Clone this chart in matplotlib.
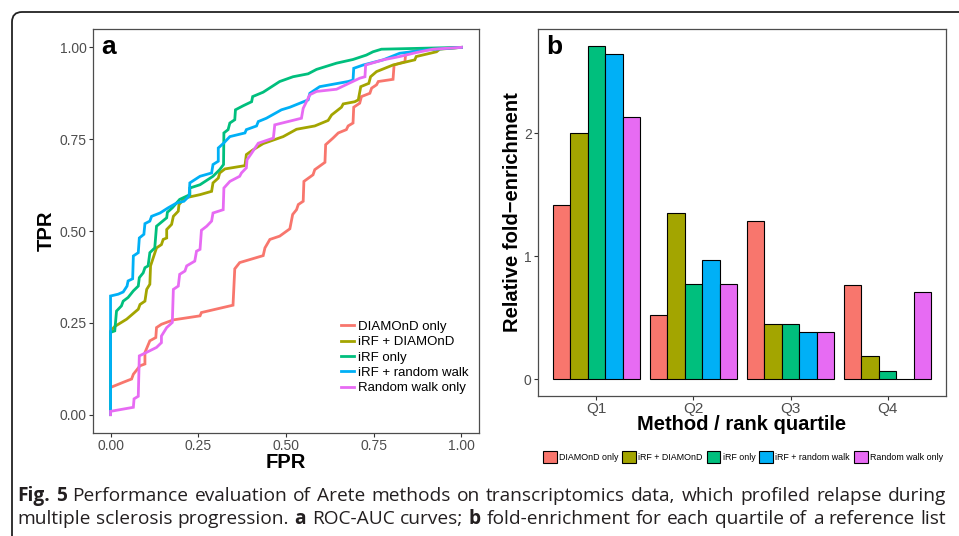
import matplotlib
matplotlib.use('Agg')
import matplotlib.pyplot as plt
from matplotlib.patches import FancyBboxPatch, Patch
from matplotlib.transforms import IdentityTransform
import numpy as np

plt.rcParams['font.family'] = ['Liberation Sans', 'DejaVu Sans']

# --- panel a: ROC curves ---
fpr_diamond = [0, 0, 0.036, 0.060, 0.065, 0.084, 0.098, 0.098, 0.112, 0.129, 0.131, 0.145, 0.179,
               0.255, 0.259, 0.349, 0.354, 0.368, 0.435, 0.440, 0.454, 0.482, 0.511, 0.519, 0.530,
               0.535, 0.549, 0.551, 0.577, 0.582, 0.611, 0.613, 0.634, 0.649, 0.672, 0.677, 0.691,
               0.693, 0.710, 0.715, 0.739, 0.744, 0.758, 0.763, 0.805, 0.808, 0.839, 0.841, 0.881, 1.0]
tpr_diamond = [0, 0.074, 0.088, 0.097, 0.110, 0.133, 0.138, 0.169, 0.201, 0.210, 0.237, 0.246, 0.258,
               0.269, 0.278, 0.298, 0.397, 0.414, 0.433, 0.454, 0.477, 0.486, 0.506, 0.545, 0.558,
               0.572, 0.581, 0.635, 0.653, 0.667, 0.687, 0.735, 0.753, 0.767, 0.776, 0.786, 0.794,
               0.837, 0.848, 0.866, 0.875, 0.889, 0.898, 0.907, 0.913, 0.952, 0.961, 0.984, 0.993, 1.0]

fpr_irf_diamond = [0, 0, 0.012, 0.046, 0.079, 0.084, 0.098, 0.103, 0.112, 0.114, 0.131, 0.145, 0.150,
                   0.160, 0.160, 0.174, 0.179, 0.193, 0.195, 0.212, 0.255, 0.288, 0.292, 0.307, 0.311,
                   0.326, 0.383, 0.387, 0.406, 0.435, 0.492, 0.530, 0.582, 0.620, 0.630, 0.658, 0.663,
                   0.696, 0.706, 0.713, 0.736, 0.741, 0.758, 0.805, 0.867, 0.871, 0.929, 0.938, 1.0]
tpr_irf_diamond = [0, 0.228, 0.240, 0.260, 0.287, 0.300, 0.309, 0.341, 0.355, 0.405, 0.454, 0.463, 0.477,
                   0.481, 0.504, 0.518, 0.540, 0.554, 0.572, 0.590, 0.599, 0.608, 0.631, 0.644, 0.658,
                   0.669, 0.678, 0.708, 0.721, 0.738, 0.757, 0.777, 0.786, 0.801, 0.816, 0.837, 0.846,
                   0.852, 0.857, 0.893, 0.902, 0.920, 0.934, 0.952, 0.966, 0.975, 0.988, 0.995, 1.0]

fpr_irf = [0, 0, 0.012, 0.017, 0.031, 0.036, 0.050, 0.065, 0.079, 0.082, 0.093, 0.098, 0.107, 0.112,
           0.126, 0.131, 0.160, 0.162, 0.176, 0.197, 0.226, 0.226, 0.255, 0.292, 0.311, 0.322, 0.323,
           0.335, 0.340, 0.354, 0.356, 0.378, 0.402, 0.405, 0.435, 0.482, 0.520, 0.563, 0.587, 0.644,
           0.691, 0.729, 0.748, 0.772, 1.0]
tpr_irf = [0, 0.224, 0.228, 0.282, 0.296, 0.309, 0.319, 0.337, 0.350, 0.373, 0.386, 0.400, 0.405, 0.441,
           0.454, 0.513, 0.536, 0.551, 0.563, 0.586, 0.599, 0.617, 0.626, 0.649, 0.667, 0.681, 0.767,
           0.776, 0.794, 0.803, 0.830, 0.841, 0.852, 0.866, 0.878, 0.907, 0.920, 0.928, 0.940, 0.957,
           0.967, 0.979, 0.988, 0.995, 1.0]

fpr_irf_rw = [0, 0, 0.022, 0.036, 0.047, 0.050, 0.063, 0.065, 0.079, 0.082, 0.095, 0.098, 0.112, 0.117,
              0.141, 0.164, 0.188, 0.209, 0.224, 0.226, 0.255, 0.288, 0.292, 0.307, 0.307, 0.321, 0.340,
              0.383, 0.387, 0.416, 0.421, 0.444, 0.487, 0.511, 0.563, 0.568, 0.596, 0.677, 0.691, 0.693,
              0.720, 0.777, 0.824, 0.900, 1.0]
tpr_irf_rw = [0, 0.323, 0.328, 0.334, 0.350, 0.364, 0.370, 0.432, 0.441, 0.481, 0.491, 0.520, 0.527,
              0.540, 0.549, 0.563, 0.576, 0.581, 0.595, 0.631, 0.649, 0.658, 0.681, 0.690, 0.726, 0.738,
              0.757, 0.767, 0.776, 0.786, 0.798, 0.807, 0.830, 0.837, 0.857, 0.875, 0.893, 0.907, 0.911,
              0.943, 0.952, 0.966, 0.984, 0.993, 1.0]

fpr_rw = [0, 0, 0.065, 0.067, 0.079, 0.082, 0.093, 0.131, 0.145, 0.145, 0.160, 0.176, 0.179, 0.193,
          0.197, 0.212, 0.217, 0.240, 0.245, 0.255, 0.259, 0.274, 0.288, 0.292, 0.321, 0.323, 0.340,
          0.368, 0.373, 0.387, 0.389, 0.402, 0.421, 0.464, 0.468, 0.544, 0.549, 0.568, 0.587, 0.644,
          0.710, 0.725, 0.727, 0.777, 0.824, 0.872, 0.919, 1.0]
tpr_rw = [0, 0.009, 0.020, 0.043, 0.050, 0.160, 0.165, 0.183, 0.196, 0.214, 0.237, 0.251, 0.341, 0.350,
          0.382, 0.391, 0.405, 0.418, 0.445, 0.450, 0.502, 0.513, 0.527, 0.549, 0.558, 0.617, 0.635,
          0.649, 0.658, 0.672, 0.694, 0.712, 0.739, 0.753, 0.789, 0.807, 0.834, 0.871, 0.880, 0.886,
          0.916, 0.920, 0.952, 0.966, 0.975, 0.986, 0.995, 1.0]

# --- panel b: fold-enrichment per quartile ---
quartiles = ['Q1', 'Q2', 'Q3', 'Q4']
fe_diamond = [1.42, 0.52, 1.29, 0.77]
fe_irf_diamond = [2.00, 1.355, 0.453, 0.193]
fe_irf = [2.713, 0.772, 0.453, 0.065]
fe_irf_rw = [2.648, 0.967, 0.385, 0.0]
fe_rw = [2.13, 0.772, 0.385, 0.71]

methods = ['DIAMOnD only', 'iRF + DIAMOnD', 'iRF only', 'iRF + random walk', 'Random walk only']
colors = ['#F8766D', '#A3A500', '#00BF7D', '#00B0F6', '#E76BF3']

W, H = 959, 536
fig = plt.figure(figsize=(W / 100, H / 100), dpi=100)
fig.patch.set_facecolor('white')

# frame round the figure
frame = FancyBboxPatch((12, -60), 1100, H - 12 + 60,
                       boxstyle='round,pad=0,rounding_size=10',
                       transform=IdentityTransform(), fill=False,
                       edgecolor='#222222', linewidth=1.3)
fig.add_artist(frame)


def style_axes(ax):
    for sp in ax.spines.values():
        sp.set_color('#4D4D4D')
        sp.set_linewidth(0.9)
    ax.tick_params(length=3, width=0.8, color='#333333', labelcolor='#4D4D4D',
                   labelsize=10, pad=1.5)


def px_axes(l, t, r, b):
    return fig.add_axes([l / W, 1 - b / H, (r - l) / W, (b - t) / H])


# ---- panel a ----
ax1 = px_axes(93, 29, 479, 433)
rocs = [(fpr_diamond, tpr_diamond), (fpr_irf_diamond, tpr_irf_diamond), (fpr_irf, tpr_irf),
        (fpr_irf_rw, tpr_irf_rw), (fpr_rw, tpr_rw)]
for (xs, ys), c, m in zip(rocs, colors, methods):
    ax1.plot(xs, ys, color=c, lw=2.0, label=m, solid_joinstyle='miter')
ax1.set_xlim(-0.05, 1.05)
ax1.set_ylim(-0.05, 1.05)
ticks = [0, 0.25, 0.5, 0.75, 1.0]
ax1.set_xticks(ticks, ['0.00', '0.25', '0.50', '0.75', '1.00'])
ax1.set_yticks(ticks, ['0.00', '0.25', '0.50', '0.75', '1.00'])
style_axes(ax1)
ax1.set_xlabel('FPR', fontsize=14.5, fontweight='bold')
ax1.set_ylabel('TPR', fontsize=14.5, fontweight='bold')
ax1.xaxis.set_label_coords(0.5, (433 - 462.5) / 404)
ax1.xaxis.label.set_va('center')
ax1.yaxis.set_label_coords((46.5 - 93) / 386, 0.5)
ax1.yaxis.label.set_va('center')
ax1.text(0.021, 0.938, 'a', transform=ax1.transAxes, fontsize=19, fontweight='bold',
         va='baseline', ha='left')
ax1.legend(loc='upper left', bbox_to_anchor=(334 / W, 1 - 314 / H),
           bbox_transform=fig.transFigure, frameon=False, fontsize=9.5,
           handlelength=1.0, handletextpad=0.35, labelspacing=0.24, borderpad=0)

# ---- panel b ----
ax2 = px_axes(538, 29, 946, 396)
xpos = np.arange(1, len(quartiles) + 1)
bw = 0.18
series = [fe_diamond, fe_irf_diamond, fe_irf, fe_irf_rw, fe_rw]
for i, (vals, c) in enumerate(zip(series, colors)):
    ax2.bar(xpos + (i - 2) * bw, vals, width=bw, color=c, edgecolor='black', linewidth=0.8)
ax2.set_xlim(0.4, 4.6)
ax2.set_ylim(-0.136, 2.85)
ax2.set_xticks(xpos, quartiles)
ax2.set_yticks([0, 1, 2])
style_axes(ax2)
ax2.tick_params(axis='x', labelsize=11)
ax2.set_xlabel('Method / rank quartile', fontsize=14.5, fontweight='bold')
ax2.set_ylabel('Relative fold\u2212enrichment', fontsize=14.5, fontweight='bold')
ax2.xaxis.set_label_coords(0.5, (396 - 425) / 367)
ax2.xaxis.label.set_va('center')
ax2.yaxis.set_label_coords((513 - 538) / 408, 0.5)
ax2.yaxis.label.set_va('center')
ax2.text(0.02, 0.9326, 'b', transform=ax2.transAxes, fontsize=19, fontweight='bold',
         va='baseline', ha='left')
handles = [Patch(facecolor=c, edgecolor='black', linewidth=0.8) for c in colors]
fig.legend(handles, methods, loc='center', bbox_to_anchor=(743 / W, 1 - 457 / H),
           bbox_transform=fig.transFigure, ncol=5, frameon=False, fontsize=6.4,
           handlelength=1.55, handleheight=1.55, handletextpad=0.25, columnspacing=0.45,
           borderpad=0)

# ---- caption, justified between x=17 and x=946 ----
cap_family = ['Open Sans', 'Liberation Sans', 'DejaVu Sans']
renderer = fig.canvas.get_renderer()
line1 = [('Fig.', True), ('5', True)] + [(w, False) for w in
         'Performance evaluation of Arete methods on transcriptomics data, which profiled relapse during'.split()]
line2 = [(w, False) for w in 'multiple sclerosis progression.'.split()] + [('a', True)] + \
        [(w, False) for w in 'ROC-AUC curves;'.split()] + [('b', True)] + \
        [(w, False) for w in 'fold-enrichment for each quartile of a reference list'.split()]


def measure(txt, size, bold):
    t = fig.text(0, 0, txt, fontsize=size, family=cap_family,
                 fontweight='bold' if bold else 'normal')
    w = t.get_window_extent(renderer).width
    t.remove()
    return w


def natural_width(words, size):
    sp = measure('a a', size, False) - measure('aa', size, False)
    return sum(measure(s, size, b) for s, b in words) + sp * (len(words) - 1)


x_left, x_right = 17, 946
cap_size = 11.4
longest = max(natural_width(line1, cap_size), natural_width(line2, cap_size))
cap_size *= (x_right - x_left - 4) / longest


def draw_justified(words, baseline, size):
    widths = [measure(s, size, b) for s, b in words]
    gap = (x_right - x_left - sum(widths)) / (len(words) - 1)
    x = x_left
    for (s, b), w in zip(words, widths):
        fig.text(x / W, 1 - baseline / H, s, fontsize=size, family=cap_family,
                 fontweight='bold' if b else 'normal', va='baseline', ha='left',
                 color='#231F20')
        x += w + gap


draw_justified(line1, 501, cap_size)
draw_justified(line2, 524.5, cap_size)

fig.savefig('out.png', dpi=100)
